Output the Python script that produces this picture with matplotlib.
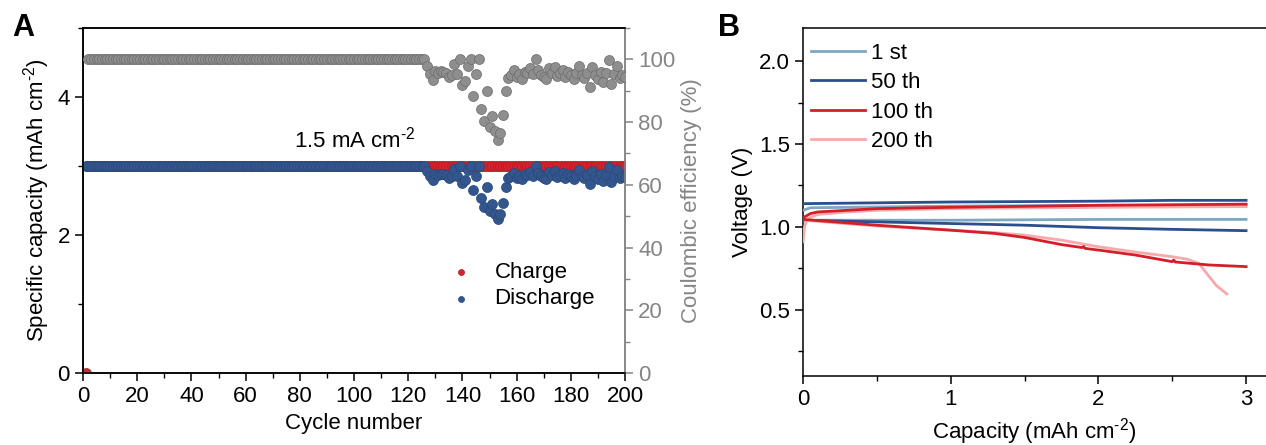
import numpy as np
import matplotlib
matplotlib.use("Agg")
import matplotlib.pyplot as plt
from matplotlib.ticker import MultipleLocator

plt.rcParams['font.family'] = ['Liberation Sans', 'DejaVu Sans']
plt.rcParams['font.size'] = 16
plt.rcParams['mathtext.fontset'] = 'custom'
plt.rcParams['mathtext.rm'] = 'Liberation Sans'
plt.rcParams['mathtext.it'] = 'Liberation Sans:italic'

# ---- panel A: cycling data ----
cycles = np.arange(1, 201)
STABLE_CYCLES = 126
CHARGE_CAP = 3.0

# first cycle charge reads 0, the rest are fixed-capacity charges
charge = np.array([0.0] + [CHARGE_CAP] * 199)

# discharge capacity (mAh cm-2), cycles 127-200
discharge_tail = [
    2.934, 2.856, 2.799, 2.886, 2.865, 2.886, 2.880, 2.874, 2.832, 2.850,
    2.958, 2.856, 3.000, 2.751, 2.790, 2.937, 3.000, 2.646, 2.856, 3.000,
    2.529, 2.409, 2.697, 2.352, 2.454, 2.310, 2.226, 2.298, 2.466, 2.694,
    2.820, 2.850, 2.895, 2.832, 2.856, 2.808, 2.880, 2.865, 2.916, 2.856,
    3.000, 2.895, 2.850, 2.832, 2.808, 2.919, 2.865, 2.925, 2.844, 2.874,
    2.895, 2.832, 2.880, 2.850, 2.808, 2.865, 2.937, 2.850, 2.820, 2.874,
    2.736, 2.925, 2.850, 2.808, 2.880, 2.784, 2.865, 2.991, 2.766, 2.856,
    2.940, 2.820, 2.850, 2.835,
]
discharge = np.array([CHARGE_CAP] * STABLE_CYCLES + discharge_tail)

# coulombic efficiency = discharge / charge
with np.errstate(divide='ignore', invalid='ignore'):
    ce = np.where(charge > 0, discharge / charge * 100, np.nan)

# ---- panel B: voltage profiles ----
profiles = {
    "1 st": {
        "color": "#7ea7c1",
        "chg_x": [0, 0.05, 0.5, 1.0, 2.0, 3.0],
        "chg_v": [1.10, 1.115, 1.12, 1.125, 1.13, 1.13],
        "dis_x": [0, 0.05, 1.0, 2.0, 3.0],
        "dis_v": [1.035, 1.04, 1.04, 1.045, 1.045],
    },
    "50 th": {
        "color": "#2b4f8c",
        "chg_x": [0, 0.5, 1.0, 2.0, 2.5, 3.0],
        "chg_v": [1.14, 1.145, 1.15, 1.155, 1.16, 1.16],
        "dis_x": [0, 0.5, 1.0, 1.5, 2.0, 2.5, 3.0],
        "dis_v": [1.04, 1.03, 1.02, 1.01, 0.995, 0.985, 0.977],
    },
    "100 th": {
        "color": "#d41f2a",
        "chg_x": [0, 0.01, 0.05, 0.1, 0.3, 0.5, 1.0, 2.0, 3.0],
        "chg_v": [1.04, 1.06, 1.08, 1.09, 1.10, 1.11, 1.118, 1.13, 1.137],
        "dis_x": [0, 0.5, 1.0, 1.3, 1.5, 1.75, 1.89, 1.90, 1.91, 2.0, 2.25,
                  2.5, 2.51, 2.52, 2.75, 3.0],
        "dis_v": [1.045, 1.01, 0.98, 0.96, 0.936, 0.893, 0.875, 0.882, 0.87,
                  0.86, 0.83, 0.79, 0.80, 0.788, 0.77, 0.76],
    },
    "200 th": {
        "color": "#f7a9ab",
        "chg_x": [0, 0.01, 0.03, 0.1, 0.3, 0.5, 1.0, 2.0, 3.0],
        "chg_v": [0.91, 1.0, 1.05, 1.075, 1.09, 1.10, 1.11, 1.118, 1.122],
        "dis_x": [0, 0.5, 1.0, 1.3, 1.5, 1.75, 2.0, 2.25, 2.5, 2.6, 2.68,
                  2.75, 2.8, 2.87],
        "dis_v": [1.04, 1.005, 0.98, 0.965, 0.95, 0.92, 0.88, 0.848, 0.82,
                  0.805, 0.78, 0.70, 0.645, 0.595],
    },
}
profile_z = {"1 st": 3, "50 th": 4, "100 th": 6, "200 th": 5}

GREY = "#858585"
RED = "#d8232d"
BLUE = "#34568e"
MARKER_S = 52
AREAL = "cm$^{\\text{-2}}$"

fig = plt.figure(figsize=(12.66, 4.45), dpi=100)

def style_ticks(ax):
    ax.tick_params(which='major', direction='out', length=6, width=1.1)
    ax.tick_params(which='minor', direction='out', length=3.5, width=1.0)

# panel A
axA = fig.add_axes([83 / 1266, 72 / 445, 542 / 1266, 345 / 445])
axA.scatter(cycles, charge, s=MARKER_S, color=RED, edgecolor="#b01c25",
            linewidth=0.5, zorder=3, label="Charge")
axA.scatter(cycles, discharge, s=MARKER_S, color=BLUE, edgecolor="#284878",
            linewidth=0.5, zorder=4, label="Discharge")
axA.set_xlim(0, 200)
axA.set_ylim(0, 5)
axA.xaxis.set_major_locator(MultipleLocator(20))
axA.xaxis.set_minor_locator(MultipleLocator(10))
axA.yaxis.set_major_locator(MultipleLocator(2))
axA.yaxis.set_minor_locator(MultipleLocator(1))
style_ticks(axA)
axA.set_xlabel("Cycle number")
axA.set_ylabel("Specific capacity (mAh " + AREAL + ")")
axA.text(78, 3.38, "1.5 mA " + AREAL, fontsize=16, va='center')
axA.legend(loc='upper left', bbox_to_anchor=(0.62, 0.38), frameon=False,
           handletextpad=0.5, markerscale=0.6, labelspacing=0.25,
           fontsize=16)
axA.spines['right'].set_color(GREY)

axCE = axA.twinx()
axCE.scatter(cycles, ce, s=MARKER_S, color="#8e8e8e", edgecolor="#6c6c6c",
             linewidth=0.5, zorder=3)
axCE.set_ylim(0, 110)
axCE.yaxis.set_major_locator(MultipleLocator(20))
axCE.yaxis.set_minor_locator(MultipleLocator(10))
style_ticks(axCE)
axCE.tick_params(axis='y', which='both', colors=GREY)
axCE.spines['right'].set_color(GREY)
axCE.set_ylabel("Coulombic efficiency (%)", color=GREY)

# panel B
axB = fig.add_axes([803 / 1266, 69 / 445, 463 / 1266, 348 / 445])
for name, p in profiles.items():
    axB.plot(p["chg_x"], p["chg_v"], color=p["color"], lw=2.0,
             zorder=profile_z[name], label=name)
    axB.plot(p["dis_x"], p["dis_v"], color=p["color"], lw=2.0,
             zorder=profile_z[name])
axB.set_xlim(0, 3.135)
axB.set_ylim(0.1, 2.2)
axB.xaxis.set_major_locator(MultipleLocator(1))
axB.xaxis.set_minor_locator(MultipleLocator(0.5))
axB.yaxis.set_major_locator(MultipleLocator(0.5))
axB.yaxis.set_minor_locator(MultipleLocator(0.25))
axB.yaxis.set_major_formatter(plt.FormatStrFormatter('%.1f'))
style_ticks(axB)
axB.spines['right'].set_visible(False)
axB.set_xlabel("Capacity (mAh " + AREAL + ")")
axB.set_ylabel("Voltage (V)")
axB.legend(loc='upper left', bbox_to_anchor=(-0.025, 1.015), frameon=False,
           handlelength=2.4, handletextpad=0.3, labelspacing=0.38,
           fontsize=16)

for ax in (axA, axCE, axB):
    for sp in ax.spines.values():
        sp.set_linewidth(1.1)

fig.text(12 / 1266, 1 - 36 / 445, "A", fontsize=22, fontweight='bold')
fig.text(718 / 1266, 1 - 36 / 445, "B", fontsize=22, fontweight='bold')

fig.savefig("out.png", dpi=100)
